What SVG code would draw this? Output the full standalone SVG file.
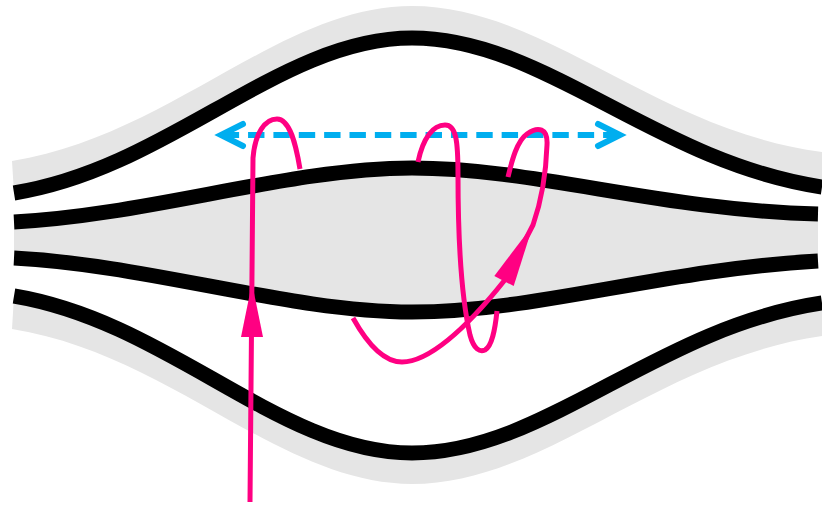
<svg xmlns="http://www.w3.org/2000/svg" width="822" height="505" viewBox="0 0 822 505">
<style>
.band{fill:#e5e5e5;stroke:none}
.mem{fill:none;stroke:#000;stroke-width:15}
.pk{fill:none;stroke:#ff0082;stroke-width:5}
.pkh{fill:#ff0082;stroke:none}
.cy{fill:none;stroke:#00aeef;stroke-width:6}
</style>
<rect width="822" height="505" fill="#fff"/>
<g id="membrane-outer-top">
<path class="band" d="M12,161 C170,136 280,6 412,6 C545,6 655,130 822,152 L822,187 C655,162 545,38 412,38 C280,38 170,168 14,193 Z"/>
<path class="mem" d="M14,193 C170,168 280,38 412,38 C545,38 655,162 822,187"/>
</g>
<g id="membrane-outer-bottom">
<path class="band" d="M12,329 C170,354 280,484 412,484 C545,484 655,360 822,336 L822,303 C655,328 545,453 412,453 C280,453 170,322 14,296 Z"/>
<path class="mem" d="M14,296 C170,322 280,453 412,453 C545,453 655,328 822,303"/>
</g>
<g id="membrane-inner">
<path class="band" d="M14,222 C150,215 290,168 412,168 C535,168 660,210 818,214 L818,261 C660,270 535,312 412,312 C290,312 150,265 14,258 Z"/>
<path class="mem" d="M14,222 C150,215 290,168 412,168 C535,168 660,210 818,214"/>
<path class="mem" d="M14,258 C150,265 290,312 412,312 C535,312 660,270 818,261"/>
</g>
<g id="span-arrow">
<line class="cy" x1="222.7" y1="135" x2="618" y2="135" stroke-dasharray="16.4 8.96"/>
<polyline class="cy" points="243,124 221,135 243,146" stroke-linecap="round" stroke-linejoin="miter"/>
<polyline class="cy" points="598,124 620,135 598,146" stroke-linecap="round" stroke-linejoin="miter"/>
</g>
<g id="connectors">
<path class="pk" d="M250,502 L253,158 C255,133 265,119 277,119 C290,119 296,145 300,169"/>
<polygon class="pkh" points="252,283 241,337 263,337"/>
<path class="pk" d="M418,162 C423,138 433,125 445,125 C456,125 458,140 458,175 C458,250 462,300 470,335 C474,350 480,352 485,350 C492,346 495,330 497,311"/>
<path class="pk" d="M353,318 C368,345 385,362 402,362 C428,362 465,330 504,281 L533,225 C540,205 546,175 547,145 C548,128 538,126 527,134 C517,141 512,160 508,177"/>
<polygon class="pkh" points="533,225 494.3,275.9 513.7,286.1"/>
</g>
</svg>
